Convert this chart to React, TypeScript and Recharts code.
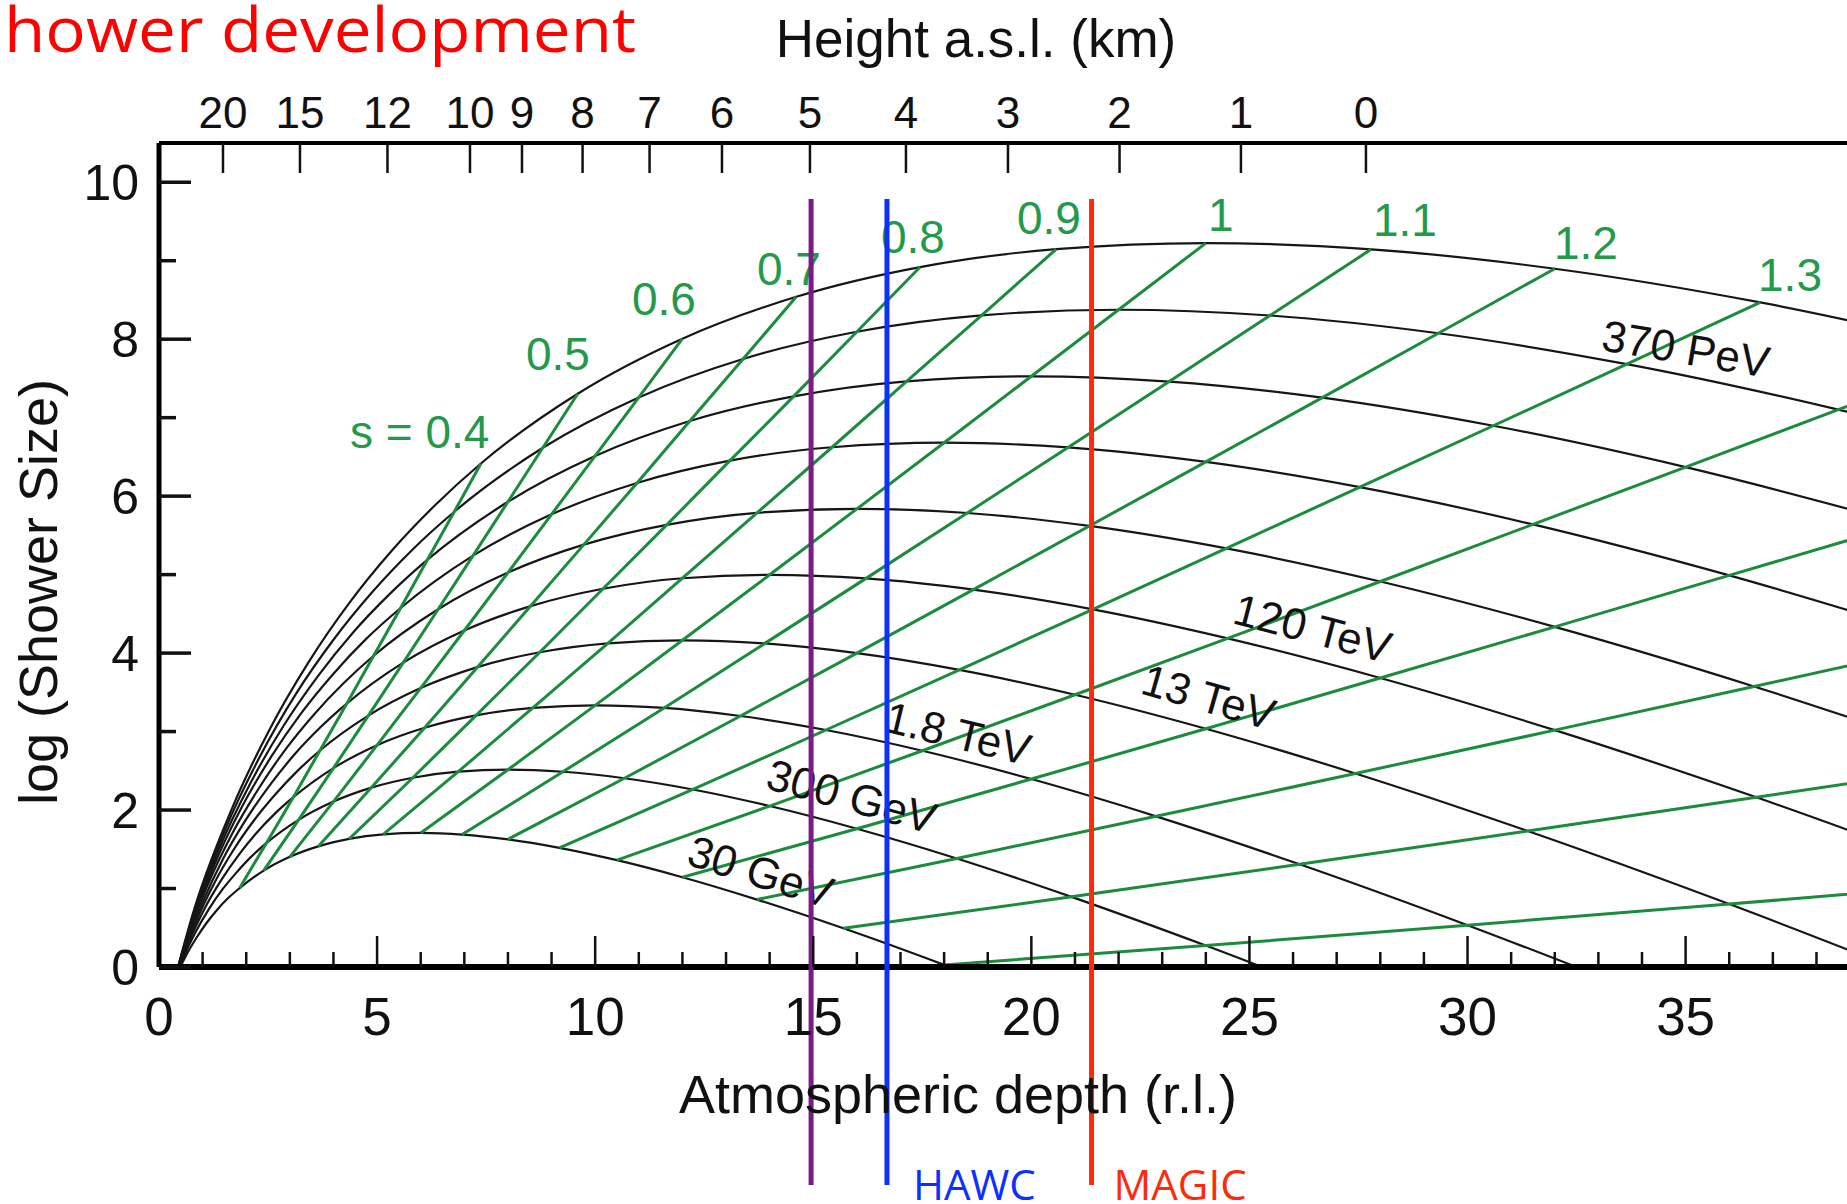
import React from 'react';
import { LineChart, Line, XAxis, YAxis, ReferenceLine, ReferenceDot } from 'recharts';

// ---- data ----
// sampling ages (shower age s) at which each cascade curve was read
const ages = [0.02, 0.05, 0.1, 0.15, 0.2, 0.25, 0.3, 0.35, 0.4, 0.5, 0.6, 0.7, 0.8, 0.9, 1.0, 1.1, 1.2, 1.3, 1.4, 1.5, 1.6, 1.7, 1.8, 1.9];

// atmospheric depth (r.l.) and log10(shower size) along each energy curve
const depth30GeV = [0.08, 0.2, 0.41, 0.63, 0.86, 1.09, 1.33, 1.58, 1.85, 2.4, 3.0, 3.65, 4.36, 5.14, 6.0, 6.95, 8.0, 9.18, 10.5, 12.0, 13.71, 15.69, 18.0, 20.73];
const size30GeV = [-0.657, -0.412, -0.097, 0.157, 0.373, 0.561, 0.727, 0.875, 1.006, 1.228, 1.404, 1.537, 1.632, 1.689, 1.708, 1.688, 1.627, 1.519, 1.361, 1.144, 0.859, 0.493, 0.027, -0.563];

const depth300GeV = [0.11, 0.27, 0.55, 0.84, 1.14, 1.45, 1.78, 2.11, 2.46, 3.2, 4.0, 4.87, 5.82, 6.86, 8.0, 9.26, 10.67, 12.24, 14.0, 16.0, 18.29, 20.92, 24.0, 27.64];
const size300GeV = [-0.64, -0.313, 0.107, 0.446, 0.734, 0.985, 1.206, 1.403, 1.578, 1.875, 2.108, 2.286, 2.412, 2.489, 2.514, 2.488, 2.405, 2.262, 2.051, 1.762, 1.383, 0.894, 0.273, -0.513];

const depth1800GeV = [0.13, 0.34, 0.69, 1.05, 1.43, 1.82, 2.22, 2.64, 3.08, 4.0, 5.0, 6.09, 7.27, 8.57, 10.0, 11.58, 13.33, 15.29, 17.5, 20.0, 22.86, 26.15, 30.0, 34.55];
const size1800GeV = [-0.608, -0.2, 0.325, 0.75, 1.11, 1.423, 1.699, 1.945, 2.164, 2.535, 2.827, 3.049, 3.207, 3.302, 3.334, 3.301, 3.198, 3.02, 2.756, 2.395, 1.92, 1.309, 0.533, -0.45];

const depth13TeV = [0.16, 0.41, 0.83, 1.26, 1.71, 2.18, 2.67, 3.17, 3.69, 4.8, 6.0, 7.3, 8.73, 10.29, 12.0, 13.89, 16.0, 18.35, 21.0, 24.0, 27.43, 31.38, 36.0, 41.45];
const size13TeV = [-0.568, -0.078, 0.553, 1.062, 1.494, 1.87, 2.201, 2.496, 2.759, 3.204, 3.554, 3.821, 4.011, 4.125, 4.163, 4.124, 4.0, 3.786, 3.469, 3.036, 2.466, 1.733, 0.802, -0.378];

const depth120TeV = [0.19, 0.47, 0.97, 1.47, 2.0, 2.55, 3.11, 3.7, 4.31, 5.6, 7.0, 8.52, 10.18, 12.0, 14.0, 16.21, 18.67, 21.41, 24.5, 28.0, 32.0, 36.62, 42.0];
const size120TeV = [-0.521, 0.051, 0.786, 1.38, 1.884, 2.323, 2.71, 3.054, 3.36, 3.879, 4.288, 4.599, 4.82, 4.954, 4.998, 4.952, 4.808, 4.558, 4.188, 3.683, 3.018, 2.163, 1.077];

const depth750TeV = [0.21, 0.54, 1.1, 1.68, 2.29, 2.91, 3.56, 4.23, 4.92, 6.4, 8.0, 9.74, 11.64, 13.71, 16.0, 18.53, 21.33, 24.47, 28.0, 32.0, 36.57, 41.85];
const size750TeV = [-0.47, 0.183, 1.024, 1.702, 2.278, 2.78, 3.222, 3.615, 3.966, 4.559, 5.026, 5.382, 5.634, 5.787, 5.838, 5.785, 5.62, 5.334, 4.912, 4.334, 3.575, 2.598];

const depth5PeV = [0.24, 0.61, 1.24, 1.89, 2.57, 3.27, 4.0, 4.75, 5.54, 7.2, 9.0, 10.96, 13.09, 15.43, 18.0, 20.84, 24.0, 27.53, 31.5, 36.0, 41.14];
const size5PeV = [-0.416, 0.32, 1.265, 2.028, 2.677, 3.241, 3.738, 4.181, 4.575, 5.242, 5.768, 6.168, 6.452, 6.623, 6.681, 6.621, 6.436, 6.115, 5.64, 4.99, 4.135];

const depth40PeV = [0.27, 0.68, 1.38, 2.11, 2.86, 3.64, 4.44, 5.28, 6.15, 8.0, 10.0, 12.17, 14.55, 17.14, 20.0, 23.16, 26.67, 30.59, 35.0, 40.0];
const size40PeV = [-0.358, 0.458, 1.509, 2.357, 3.077, 3.704, 4.257, 4.748, 5.187, 5.928, 6.512, 6.957, 7.272, 7.463, 7.527, 7.46, 7.255, 6.897, 6.37, 5.647];

const depth370PeV = [0.3, 0.75, 1.52, 2.32, 3.14, 4.0, 4.89, 5.81, 6.77, 8.8, 11.0, 13.39, 16.0, 18.86, 22.0, 25.47, 29.33, 33.65, 38.5, 44.0];
const size370PeV = [-0.299, 0.6, 1.755, 2.688, 3.48, 4.17, 4.778, 5.318, 5.801, 6.616, 7.258, 7.748, 8.095, 8.304, 8.375, 8.302, 8.076, 7.682, 7.102, 6.307];

const depth2EeV = [0.32, 0.81, 1.66, 2.53, 3.43, 4.36, 5.33, 6.34, 7.38, 9.6, 12.0, 14.61, 17.45, 20.57, 24.0, 27.79, 32.0, 36.71, 42.0];
const size2EeV = [-0.238, 0.742, 2.003, 3.021, 3.885, 4.637, 5.301, 5.89, 6.416, 7.305, 8.006, 8.54, 8.919, 9.147, 9.224, 9.145, 8.898, 8.469, 7.836];

const energyCurves = [
  { name: '30 GeV', depth: depth30GeV, size: size30GeV },
  { name: '300 GeV', depth: depth300GeV, size: size300GeV },
  { name: '1.8 TeV', depth: depth1800GeV, size: size1800GeV },
  { name: '13 TeV', depth: depth13TeV, size: size13TeV },
  { name: '120 TeV', depth: depth120TeV, size: size120TeV },
  { name: '750 TeV', depth: depth750TeV, size: size750TeV },
  { name: '5 PeV', depth: depth5PeV, size: size5PeV },
  { name: '40 PeV', depth: depth40PeV, size: size40PeV },
  { name: '370 PeV', depth: depth370PeV, size: size370PeV },
  { name: '2 EeV', depth: depth2EeV, size: size2EeV },
];

// constant-age (green) lines
const constantAges = [0.4, 0.5, 0.6, 0.7, 0.8, 0.9, 1.0, 1.1, 1.2, 1.3, 1.4, 1.5, 1.6, 1.7, 1.8];

// axes
const depthTicks = [0, 1, 2, 3, 4, 5, 6, 7, 8, 9, 10, 11, 12, 13, 14, 15, 16, 17, 18, 19, 20, 21, 22, 23, 24, 25, 26, 27, 28, 29, 30, 31, 32, 33, 34, 35, 36, 37, 38];
const sizeTicks = [0, 1, 2, 3, 4, 5, 6, 7, 8, 9, 10];
const heightLabels = ['20', '15', '12', '10', '9', '8', '7', '6', '5', '4', '3', '2', '1', '0'];
const heightDepths = [1.467, 3.232, 5.238, 7.13, 8.322, 9.711, 11.247, 12.907, 14.924, 17.125, 19.464, 22.022, 24.805, 27.671];

// detector depths
const detectorNames = ['', 'HAWC', 'MAGIC'];
const detectorDepths = [14.95, 16.69, 21.38];

// ---- layout / style ----
const PLOT_LEFT = 159;
const PLOT_TOP = 143;
const PLOT_BOTTOM = 967;
const FONT = '"Liberation Sans", Arial, Helvetica, sans-serif';
const GREEN = '#1b8b3d';
const GREEN_TEXT = '#23994a';
const detectorColors = ['#7b1b86', '#0b30ff', '#ff2a0a'];
const DETECTOR_TOP = 9.786;
const DETECTOR_BOTTOM = -2.778;

const ageLabelLayout = [
  { text: 's = 0.4', t: 4.379, y: 6.613 },
  { text: '0.5', t: 8.414, y: 7.611 },
  { text: '0.6', t: 10.844, y: 8.312 },
  { text: '0.7', t: 13.709, y: 8.694 },
  { text: '0.8', t: 16.552, y: 9.098 },
  { text: '0.9', t: 19.67, y: 9.344 },
  { text: '1', t: 24.05, y: 9.374 },
  { text: '1.1', t: 27.83, y: 9.311 },
  { text: '1.2', t: 31.98, y: 9.021 },
  { text: '1.3', t: 36.66, y: 8.61 },
];

const energyLabelLayout = [
  { text: '30 GeV', t: 12.06, y: 1.312, angle: 17.5 },
  { text: '300 GeV', t: 13.87, y: 2.281, angle: 15.5 },
  { text: '1.8 TeV', t: 16.58, y: 3.007, angle: 13.5 },
  { text: '13 TeV', t: 22.47, y: 3.491, angle: 16 },
  { text: '120 TeV', t: 24.58, y: 4.383, angle: 14.5 },
  { text: '370 PeV', t: 33.04, y: 7.862, angle: 9.5 },
];

const curveRows = energyCurves.map((c) => c.depth.map((t, i) => ({ t, y: c.size[i] })));
const ageRows = constantAges.map((s) => {
  const j = ages.indexOf(s);
  return energyCurves.filter((c) => j < c.depth.length).map((c) => ({ t: c.depth[j], y: c.size[j] }));
});

const BottomTick = (props: any) => {
  const { x, payload } = props;
  const v = payload.value;
  const major = v % 5 === 0;
  return (
    <g>
      {v !== 0 && (
        <line x1={x} x2={x} y1={PLOT_BOTTOM} y2={PLOT_BOTTOM - (major ? 31 : 15)} stroke="#111" strokeWidth={2.5} />
      )}
      {major && (
        <text x={x} y={1035} textAnchor="middle" fontSize={53} fontFamily={FONT} fill="#111">
          {v}
        </text>
      )}
    </g>
  );
};

const TopTick = (props: any) => {
  const { x, payload } = props;
  const i = heightDepths.indexOf(payload.value);
  return (
    <g>
      <line x1={x} x2={x} y1={PLOT_TOP} y2={PLOT_TOP + 30} stroke="#111" strokeWidth={2.5} />
      <text x={x} y={128} textAnchor="middle" fontSize={44} fontFamily={FONT} fill="#111">
        {heightLabels[i]}
      </text>
    </g>
  );
};

const YTick = (props: any) => {
  const { y, payload } = props;
  const v = payload.value;
  const major = v % 2 === 0;
  return (
    <g>
      <line x1={PLOT_LEFT} x2={PLOT_LEFT + (major ? 32 : 17)} y1={y} y2={y} stroke="#111" strokeWidth={3.5} />
      {major && (
        <text x={139} y={y + 18} textAnchor="end" fontSize={50} fontFamily={FONT} fill="#111">
          {v}
        </text>
      )}
    </g>
  );
};

export default function App() {
  return (
    <div style={{ position: 'absolute', left: 0, top: 0, width: 1847, height: 1204, overflow: 'hidden', background: '#fff' }}>
      <LineChart width={1847} height={1204} margin={{ top: 0, right: 0, bottom: 0, left: 0 }}>
        <XAxis
          xAxisId="b"
          type="number"
          dataKey="t"
          domain={[0, 38.7]}
          allowDataOverflow
          ticks={depthTicks}
          interval={0}
          height={237}
          tickLine={false}
          axisLine={{ stroke: '#000', strokeWidth: 6 }}
          tick={BottomTick}
        />
        <XAxis
          xAxisId="top"
          orientation="top"
          type="number"
          dataKey="t"
          domain={[0, 38.7]}
          allowDataOverflow
          ticks={heightDepths}
          interval={0}
          height={143}
          tickLine={false}
          axisLine={{ stroke: '#000', strokeWidth: 4 }}
          tick={TopTick}
        />
        <YAxis
          yAxisId="y"
          type="number"
          domain={[0, 10.5]}
          allowDataOverflow
          ticks={sizeTicks}
          interval={0}
          width={159}
          tickLine={false}
          axisLine={{ stroke: '#000', strokeWidth: 5 }}
          tick={YTick}
        />
        {curveRows.map((rows, k) => (
          <Line
            key={'c' + k}
            xAxisId="b"
            yAxisId="y"
            data={rows}
            dataKey="y"
            type="monotone"
            stroke="#161616"
            strokeWidth={2.2}
            dot={false}
            activeDot={false}
            isAnimationActive={false}
          />
        ))}
        {ageRows.map((rows, k) => (
          <Line
            key={'s' + k}
            xAxisId="b"
            yAxisId="y"
            data={rows}
            dataKey="y"
            type="linear"
            stroke={GREEN}
            strokeWidth={3}
            dot={false}
            activeDot={false}
            isAnimationActive={false}
          />
        ))}
        {ageLabelLayout.map((l) => (
          <ReferenceDot
            key={'al' + l.text}
            xAxisId="b"
            yAxisId="y"
            x={l.t}
            y={l.y}
            r={0}
            fill="none"
            stroke="none"
            ifOverflow="visible"
            label={(p: any) => (
              <text x={p.viewBox.x} y={p.viewBox.y} fontSize={46} fontFamily={FONT} fill={GREEN_TEXT}>
                {l.text}
              </text>
            )}
          />
        ))}
        {energyLabelLayout.map((l) => (
          <ReferenceDot
            key={'el' + l.text}
            xAxisId="b"
            yAxisId="y"
            x={l.t}
            y={l.y}
            r={0}
            fill="none"
            stroke="none"
            ifOverflow="visible"
            label={(p: any) => (
              <text
                x={p.viewBox.x}
                y={p.viewBox.y}
                fontSize={44}
                fontFamily={FONT}
                fill="#111"
                transform={`rotate(${l.angle}, ${p.viewBox.x}, ${p.viewBox.y})`}
              >
                {l.text}
              </text>
            )}
          />
        ))}
        {detectorDepths.map((d, i) => (
          <ReferenceLine
            key={'d' + i}
            xAxisId="b"
            yAxisId="y"
            segment={[
              { x: d, y: DETECTOR_TOP },
              { x: d, y: DETECTOR_BOTTOM },
            ]}
            stroke={detectorColors[i]}
            strokeWidth={5}
            ifOverflow="visible"
            zIndex={1500}
          />
        ))}
        {detectorDepths.map((d, i) =>
          detectorNames[i] ? (
            <ReferenceDot
              key={'dl' + i}
              xAxisId="b"
              yAxisId="y"
              x={d}
              y={DETECTOR_BOTTOM}
              r={0}
              fill="none"
              stroke="none"
              ifOverflow="visible"
              label={(p: any) => (
                <text
                  x={p.viewBox.x + (i === 1 ? 26 : 22)}
                  y={1200}
                  fontSize={42}
                  fontFamily='"Open Sans", sans-serif'
                  fill={detectorColors[i]}
                >
                  {detectorNames[i]}
                </text>
              )}
            />
          ) : null
        )}
      </LineChart>
      <svg
        width={1847}
        height={1204}
        style={{ position: 'absolute', left: 0, top: 0, pointerEvents: 'none' }}
      >
        <text
          x={4}
          y={52}
          fontSize={62}
          fontFamily='"Open Sans", sans-serif'
          fill="#ff0000"
          textLength={632}
          lengthAdjust="spacingAndGlyphs"
        >
          hower development
        </text>
        <text x={976} y={57} textAnchor="middle" fontSize={53} fontFamily={FONT} fill="#111">
          Height a.s.l. (km)
        </text>
        <text x={958} y={1113} textAnchor="middle" fontSize={54} fontFamily={FONT} fill="#111">
          Atmospheric depth (r.l.)
        </text>
        <text
          x={57}
          y={592}
          textAnchor="middle"
          fontSize={54}
          fontFamily={FONT}
          fill="#111"
          transform="rotate(-90, 57, 592)"
        >
          log (Shower Size)
        </text>
      </svg>
    </div>
  );
}
